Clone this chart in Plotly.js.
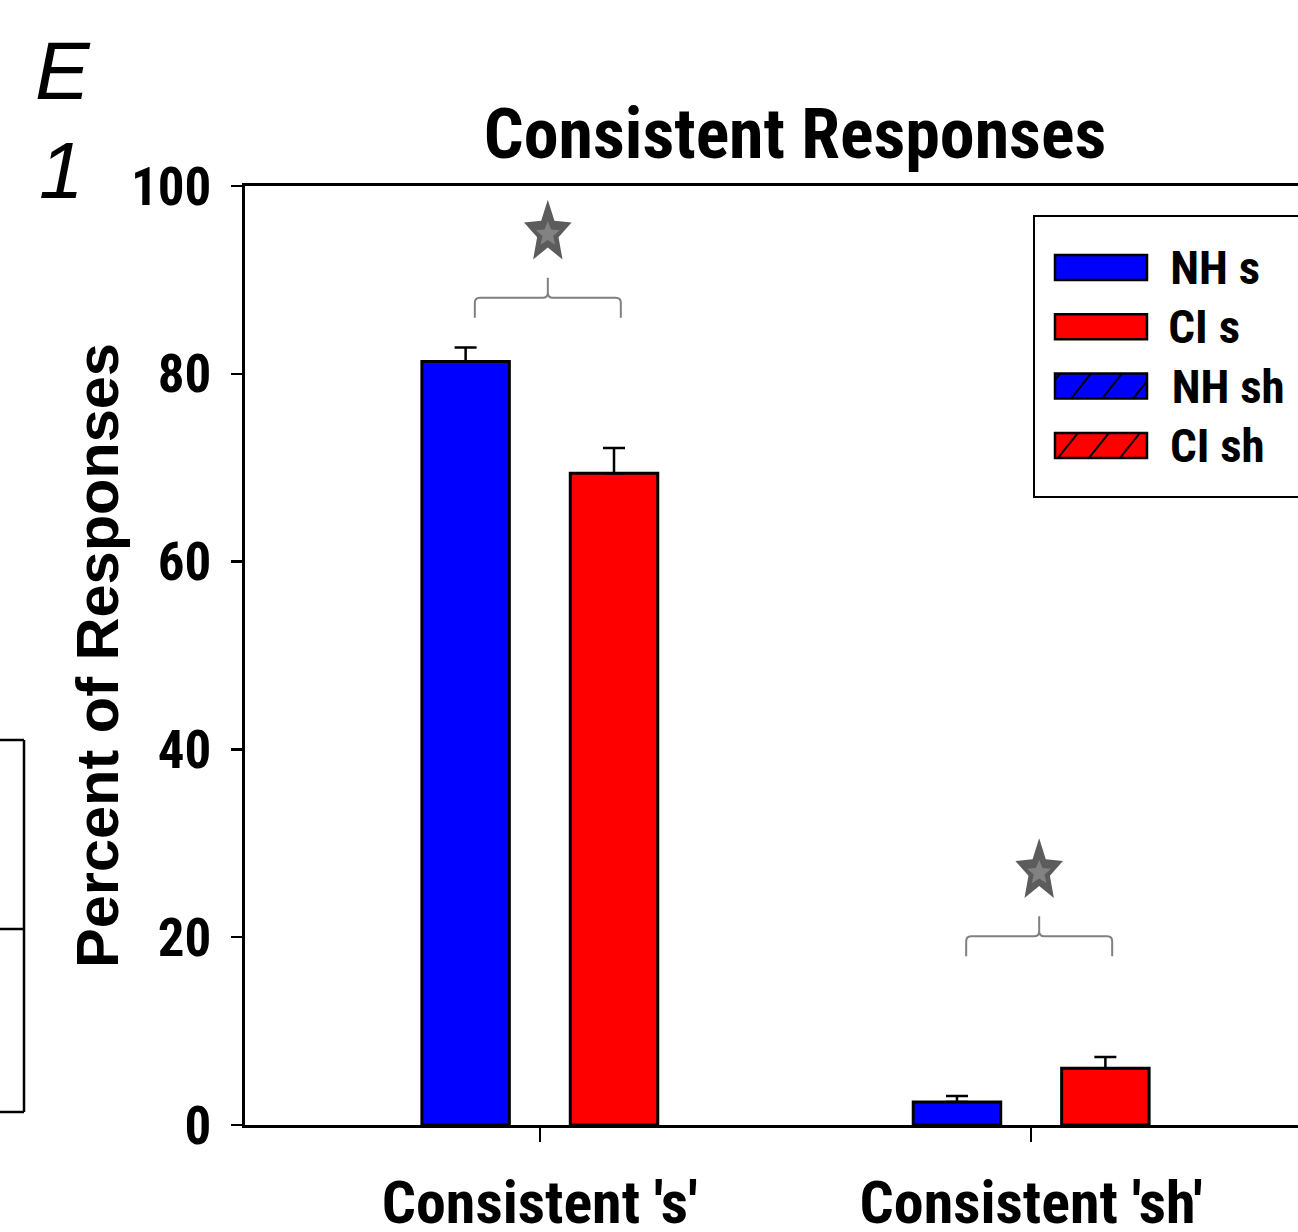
<!DOCTYPE html>
<html>
<head>
<meta charset="utf-8">
<script src="https://cdn.plot.ly/plotly-3.0.1.min.js"></script>
<style>
html, body { margin: 0; padding: 0; overflow: hidden; background: #fff; }
#chart { width: 1330px; height: 1232px; }
#chart .gtitle, #chart .xtick text, #chart .ytick text { font-stretch: condensed; }
</style>
</head>
<body>
<div id="chart"></div>
<script>
// ---- data ----
const categories = ["Consistent 's'", "Consistent 'sh'"];
const legendNames = ["NH s", "CI s", "NH sh", "CI sh"];
const nhMeans = [81.3, 2.45];
const nhErr = [1.5, 0.65];
const ciMeans = [69.4, 6.05];
const ciErr = [2.7, 1.2];
const sigBracketY = [88.1, 20.1];   // height of the significance brackets
const yTicks = [0, 20, 40, 60, 80, 100];

// ---- layout geometry ----
const W = 1330, H = 1232;
const M = {l: 245, r: 4, t: 186, b: 107};
const plotW = W - M.l - M.r, plotH = H - M.t - M.b;
const xRange = [-0.6, 1.6], yRange = [0, 100];
const pxX = plotW / (xRange[1] - xRange[0]);
const pxY = plotH / (yRange[1] - yRange[0]);
const px2paperX = p => (p - M.l) / plotW;
const py2paperY = p => (M.t + plotH - p) / plotH;

const regular = "'Liberation Sans', Arial, sans-serif";
const narrow = "Roboto, 'Liberation Sans', sans-serif";
const xIdx = categories.map((c, i) => i);

const barW = 0.178;
const traces = [
  {
    type: 'bar', name: 'NH', x: xIdx, y: nhMeans,
    width: barW, offset: -0.240,
    marker: {color: '#0000ff', line: {color: '#000', width: 3}},
    error_y: {type: 'data', array: nhErr, arrayminus: nhErr.map(() => 0), symmetric: false,
              color: '#000', thickness: 2.5, width: 11},
    showlegend: false, hoverinfo: 'skip'
  },
  {
    type: 'bar', name: 'CI', x: xIdx, y: ciMeans,
    width: barW, offset: 0.062,
    marker: {color: '#ff0000', line: {color: '#000', width: 3}},
    error_y: {type: 'data', array: ciErr, arrayminus: ciErr.map(() => 0), symmetric: false,
              color: '#000', thickness: 2.5, width: 11},
    showlegend: false, hoverinfo: 'skip'
  }
];

const shapes = [];
const annotations = [];

function starPath(cx, cy, rxPx, ryPx, inner) {
  let d = '';
  for (let k = 0; k < 10; k++) {
    const ang = -Math.PI / 2 + k * Math.PI / 5;
    const f = (k % 2 === 0) ? 1 : inner;
    const dx = Math.cos(ang) * rxPx * f;
    const dy = Math.sin(ang) * ryPx * f;
    const x = cx + dx / pxX, y = cy - dy / pxY;
    d += (k === 0 ? 'M' : 'L') + x.toFixed(5) + ',' + y.toFixed(4);
  }
  return d + 'Z';
}
sigBracketY.forEach((y0, i) => {
  const cx = i + 8 / pxX, hw = 73 / pxX;
  const leg = 20 / pxY, bump = 20 / pxY, rx = 5 / pxX, ry = 5 / pxY;
  const P = (x, y) => x.toFixed(5) + ',' + y.toFixed(4);
  const d =
    'M' + P(cx - hw, y0 - leg) + 'L' + P(cx - hw, y0 - ry) +
    'Q' + P(cx - hw, y0) + ' ' + P(cx - hw + rx, y0) +
    'L' + P(cx - rx, y0) + 'Q' + P(cx, y0) + ' ' + P(cx, y0 + ry) +
    'L' + P(cx, y0 + bump) +
    'M' + P(cx, y0 + ry) + 'Q' + P(cx, y0) + ' ' + P(cx + rx, y0) +
    'L' + P(cx + hw - rx, y0) + 'Q' + P(cx + hw, y0) + ' ' + P(cx + hw, y0 - ry) +
    'L' + P(cx + hw, y0 - leg);
  shapes.push({type: 'path', xref: 'x', yref: 'y', path: d, line: {color: '#808080', width: 2}});
  const sy = y0 + 65 / pxY;
  shapes.push({type: 'path', xref: 'x', yref: 'y', path: starPath(cx, sy, 25, 33, 0.45),
               fillcolor: '#5c5c5c', line: {width: 0}});
  shapes.push({type: 'path', xref: 'x', yref: 'y', path: starPath(cx, sy - 1.5 / pxY, 12.5, 13, 0.45),
               fillcolor: '#828282', line: {width: 0}});
});

// custom legend (wide swatches with hatching)
const legColors = ['#0000ff', '#ff0000', '#0000ff', '#ff0000'];
const legHatch = [false, false, true, true];
const legPhase = [0, 0, 25, 12];
shapes.push({type: 'rect', xref: 'paper', yref: 'paper',
  x0: px2paperX(1034), x1: px2paperX(1400), y0: py2paperY(497), y1: py2paperY(216),
  line: {color: '#000', width: 2}, fillcolor: 'rgba(0,0,0,0)'});
legendNames.forEach((name, i) => {
  const top = 255 + i * 59.3, bot = top + 25, left = 1055, right = 1147;
  shapes.push({type: 'rect', xref: 'paper', yref: 'paper',
    x0: px2paperX(left), x1: px2paperX(right), y0: py2paperY(bot), y1: py2paperY(top),
    fillcolor: legColors[i], line: {color: '#000', width: 2.5}});
  if (legHatch[i]) {
    const h = bot - top, slant = 20;
    for (let xb = left - 40 + legPhase[i]; xb < right + 40; xb += 31) {
      let x0 = xb, y0 = bot, x1 = xb + slant, y1 = top;
      if (x0 < left) { const t = (left - x0) / slant; x0 = left; y0 = bot - t * h; }
      if (x1 > right) { const t = (right - xb) / slant; x1 = right; y1 = bot - t * h; }
      if (x1 <= left || x0 >= right || x0 >= x1) continue;
      shapes.push({type: 'line', xref: 'paper', yref: 'paper',
        x0: px2paperX(x0), x1: px2paperX(x1), y0: py2paperY(y0), y1: py2paperY(y1),
        line: {color: '#000', width: 2}});
    }
  }
  annotations.push({xref: 'paper', yref: 'paper', x: px2paperX(1162), y: py2paperY((top + bot) / 2),
    xanchor: 'left', yanchor: 'middle', showarrow: false, text: name,
    font: {family: narrow, size: 47, weight: 'bold', color: '#000'}});
});

// y-axis title (placed as a rotated annotation to match the reference position)
annotations.push({xref: 'paper', yref: 'paper', x: px2paperX(97), y: py2paperY(656),
  xanchor: 'center', yanchor: 'middle', showarrow: false, textangle: -90,
  text: 'Percent of Responses',
  font: {family: regular, size: 59.5, weight: 'bold', color: '#000'}});

// fragment of the neighbouring panel at the left edge
[[0, 740, 24, 740], [24, 740, 24, 1112], [0, 929, 24, 929], [0, 1112, 24, 1112]].forEach(s => {
  shapes.push({type: 'line', xref: 'paper', yref: 'paper',
    x0: px2paperX(s[0]), x1: px2paperX(s[2]), y0: py2paperY(s[1]), y1: py2paperY(s[3]),
    line: {color: '#000', width: 2.5}});
});

// panel labels
annotations.push({xref: 'paper', yref: 'paper', x: px2paperX(63), y: py2paperY(70),
  xanchor: 'center', yanchor: 'middle', showarrow: false, text: '<i>E</i>',
  font: {family: regular, size: 82, color: '#000'}});
annotations.push({xref: 'paper', yref: 'paper', x: px2paperX(61), y: py2paperY(171),
  xanchor: 'center', yanchor: 'middle', showarrow: false, text: '<i>1</i>',
  font: {family: regular, size: 80, color: '#000'}});

const layout = {
  width: W, height: H,
  margin: M,
  paper_bgcolor: '#fff', plot_bgcolor: '#fff',
  showlegend: false,
  title: {text: 'Consistent Responses', xref: 'container', yref: 'container',
          x: 795 / W, y: 1 - 133 / H, xanchor: 'center', yanchor: 'middle',
          font: {family: narrow, size: 70, weight: 'bold', color: '#000'}},
  xaxis: {
    range: xRange, tickvals: xIdx, ticktext: categories,
    showline: true, linecolor: '#000', linewidth: 3, mirror: true,
    ticks: 'outside', ticklen: 14, tickwidth: 2, tickcolor: '#000',
    showgrid: false, zeroline: false, ticklabelstandoff: 9,
    tickfont: {family: narrow, size: 60, weight: 'bold', color: '#000'},
    fixedrange: true
  },
  yaxis: {
    range: yRange, tickvals: yTicks,
    showline: true, linecolor: '#000', linewidth: 3,
    ticks: 'outside', ticklen: 11, tickwidth: 2.5, tickcolor: '#000',
    showgrid: false, zeroline: false, ticklabelstandoff: 9,
    tickfont: {family: narrow, size: 53, weight: 'bold', color: '#000'},
    title: {text: ''},
    fixedrange: true
  },
  shapes: shapes,
  annotations: annotations
};

Plotly.newPlot('chart', traces, layout, {displayModeBar: false, staticPlot: true}).then(gd => {
  // condensed width for the legend labels, like the reference's narrow face
  gd.querySelectorAll('.annotation-text').forEach(t => {
    if (t.textContent && (t.textContent.startsWith('NH') || t.textContent.startsWith('CI'))) {
      t.style.fontStretch = 'condensed';
    }
  });
});
</script>
</body>
</html>
